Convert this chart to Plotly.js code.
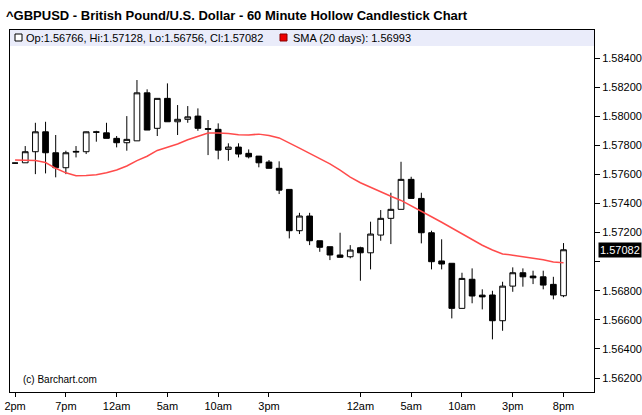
<!DOCTYPE html>
<html><head><meta charset="utf-8">
<script src="https://cdn.plot.ly/plotly-3.0.1.min.js"></script>
<style>html,body{margin:0;padding:0;background:#fff}#chart{width:642px;height:415px}</style>
</head><body><div id="chart"></div>
<script>
// bar index (hourly bars)
const barIndex = [0,1,2,3,4,5,6,7,8,9,10,11,12,13,14,15,16,17,18,19,20,21,22,23,24,25,26,27,28,29,30,31,32,33,34,35,36,37,38,39,40,41,42,43,44,45,46,47,48,49,50,51,52,53,54];
const openP  = [1.57678,1.57680,1.57756,1.57893,1.57749,1.57646,1.57753,1.57756,1.57893,1.57886,1.57848,1.57818,1.57831,1.58161,1.57917,1.58123,1.57962,1.57979,1.58001,1.57915,1.57910,1.57772,1.57788,1.57745,1.57726,1.57685,1.57642,1.57497,1.57213,1.57314,1.57144,1.57103,1.57046,1.57034,1.57096,1.57061,1.57183,1.57298,1.57360,1.57566,1.57435,1.57199,1.57005,1.56989,1.56679,1.56879,1.56770,1.56771,1.56594,1.56832,1.56924,1.56901,1.56896,1.56844,1.56766];
const highP  = [1.57680,1.57795,1.57955,1.57962,1.57871,1.57763,1.57795,1.57895,1.57900,1.57955,1.57864,1.58001,1.58249,1.58185,1.58123,1.58226,1.58077,1.58070,1.58054,1.57974,1.57951,1.57814,1.57814,1.57772,1.57726,1.57699,1.57690,1.57497,1.57336,1.57336,1.57144,1.57103,1.57199,1.57114,1.57103,1.57275,1.57355,1.57474,1.57687,1.57584,1.57474,1.57213,1.57154,1.56989,1.56924,1.56954,1.56810,1.56800,1.56862,1.56961,1.56954,1.56938,1.56938,1.56896,1.57128];
const lowP   = [1.57676,1.57680,1.57602,1.57607,1.57580,1.57602,1.57717,1.57740,1.57825,1.57848,1.57786,1.57763,1.57831,1.57905,1.57864,1.57962,1.57871,1.57955,1.57900,1.57733,1.57704,1.57694,1.57717,1.57710,1.57649,1.57642,1.57465,1.57160,1.57190,1.57114,1.57068,1.57011,1.57030,1.57023,1.56869,1.56947,1.57144,1.57121,1.57360,1.57435,1.57126,1.56947,1.56947,1.56610,1.56679,1.56714,1.56672,1.56466,1.56525,1.56793,1.56828,1.56846,1.56810,1.56741,1.56756];
const closeP = [1.57678,1.57756,1.57893,1.57749,1.57646,1.57749,1.57758,1.57893,1.57890,1.57848,1.57818,1.57841,1.58161,1.57905,1.58123,1.57962,1.57979,1.57996,1.57917,1.57910,1.57767,1.57788,1.57740,1.57721,1.57680,1.57642,1.57492,1.57213,1.57314,1.57144,1.57099,1.57046,1.57030,1.57080,1.57061,1.57190,1.57298,1.57360,1.57566,1.57435,1.57199,1.57000,1.56984,1.56679,1.56885,1.56764,1.56758,1.56594,1.56832,1.56924,1.56896,1.56889,1.56839,1.56771,1.57082];
const sma20  = [1.57699,1.57699,1.57695,1.57682,1.57642,1.57611,1.57591,1.57593,1.57598,1.57612,1.57630,1.57658,1.57695,1.57725,1.57765,1.57787,1.57809,1.57838,1.57862,1.57884,1.57884,1.57882,1.57872,1.57871,1.57877,1.57867,1.57851,1.57818,1.57781,1.57745,1.57710,1.57673,1.57630,1.57582,1.57543,1.57511,1.57480,1.57450,1.57421,1.57385,1.57345,1.57309,1.57271,1.57231,1.57190,1.57155,1.57113,1.57080,1.57053,1.57045,1.57036,1.57028,1.57014,1.56998,1.56993];

const xTickVals = [0,5,10,15,20,25,34,39,44,49,54];
const xTickText = ['2pm','7pm','12am','5am','10am','3pm','12am','5am','10am','3pm','8pm'];
const yTickVals = [1.562,1.564,1.566,1.568,1.570,1.572,1.574,1.576,1.578,1.580,1.582,1.584];
const yTickText = ['1.56200','1.56400','1.56600','1.56800','','1.57200','1.57400','1.57600','1.57800','1.58000','1.58200','1.58400'];

const titleText = '^GBPUSD - British Pound/U.S. Dollar - 60 Minute Hollow Candlestick Chart';
const legendOHLC = 'Op:1.56766, Hi:1.57128, Lo:1.56756, Cl:1.57082';
const legendSMA = 'SMA (20 days): 1.56993';
const lastPrice = 1.57082;

// pixel helpers for paper coordinates (plot area: x 10..594, y 30..392)
const L = 10, R = 594, T = 30, B = 392;
const px = v => (v - L) / (R - L);
const py = v => (B - v) / (B - T);

const traces = [
  {
    type: 'candlestick',
    x: barIndex, open: openP, high: highP, low: lowP, close: closeP,
    increasing: {line: {color: '#000', width: 1}, fillcolor: '#fff'},
    decreasing: {line: {color: '#000', width: 1}, fillcolor: '#000'},
    whiskerwidth: 0,
    hoverinfo: 'skip',
    showlegend: false
  },
  {
    type: 'scatter', mode: 'lines',
    x: barIndex, y: sma20,
    line: {color: 'rgb(255,75,75)', width: 1.5},
    hoverinfo: 'skip', showlegend: false
  }
];

const font = {family: 'Liberation Sans, Arial, sans-serif', size: 11, color: '#000'};

const layout = {
  width: 642, height: 415,
  margin: {l: L, r: 642 - R, t: T, b: 415 - B, pad: 0},
  paper_bgcolor: '#fff', plot_bgcolor: '#fff',
  font: font,
  showlegend: false,
  boxgap: 0.2,
  xaxis: {
    type: 'linear', range: [-0.5, 57.0],
    rangeslider: {visible: false},
    showgrid: false, zeroline: false,
    showline: true, linecolor: '#000', linewidth: 1, mirror: true,
    ticks: 'outside', ticklen: 4, tickcolor: '#000',
    tickvals: xTickVals, ticktext: xTickText,
    tickfont: font
  },
  yaxis: {
    side: 'right',
    range: [1.56104, 1.58593],
    showgrid: false, zeroline: false,
    showline: true, linecolor: '#000', linewidth: 1, mirror: true,
    ticks: 'outside', ticklen: 5, tickcolor: '#000',
    tickvals: yTickVals, ticktext: yTickText,
    tickfont: font
  },
  shapes: [
    {type: 'rect', xref: 'paper', yref: 'paper', x0: 0, x1: 1, y0: py(46), y1: 1,
     fillcolor: 'rgb(234,236,250)', line: {width: 0}, layer: 'below'},
    {type: 'rect', xref: 'paper', yref: 'paper', x0: px(15), x1: px(22), y0: py(41), y1: py(34),
     fillcolor: '#fff', line: {color: '#000', width: 1}},
    {type: 'rect', xref: 'paper', yref: 'paper', x0: px(280), x1: px(287), y0: py(41), y1: py(34),
     fillcolor: '#ee0000', line: {color: '#880000', width: 1}}
  ],
  annotations: [
    {xref: 'paper', yref: 'paper', x: px(4), y: py(16), xanchor: 'left', yanchor: 'middle',
     text: '<b>' + titleText + '</b>', showarrow: false,
     font: {family: 'Liberation Sans, Arial, sans-serif', size: 13, color: '#000'}},
    {xref: 'paper', yref: 'paper', x: px(24), y: py(38), xanchor: 'left', yanchor: 'middle',
     text: legendOHLC, showarrow: false, font: font},
    {xref: 'paper', yref: 'paper', x: px(291), y: py(38), xanchor: 'left', yanchor: 'middle',
     text: legendSMA, showarrow: false, font: font},
    {xref: 'paper', yref: 'paper', x: px(21), y: py(379), xanchor: 'left', yanchor: 'middle',
     text: '(c) Barchart.com', showarrow: false,
     font: {family: 'Liberation Sans, Arial, sans-serif', size: 10, color: '#000'}},
    {xref: 'paper', yref: 'y', x: 1, y: lastPrice, xanchor: 'left', yanchor: 'middle', xshift: 4,
     text: lastPrice.toFixed(5), showarrow: false, bgcolor: '#000', borderpad: 1,
     font: {family: 'Liberation Sans, Arial, sans-serif', size: 11, color: '#fff'}}
  ]
};

Plotly.newPlot('chart', traces, layout, {staticPlot: true, displayModeBar: false});
</script>
</body></html>
